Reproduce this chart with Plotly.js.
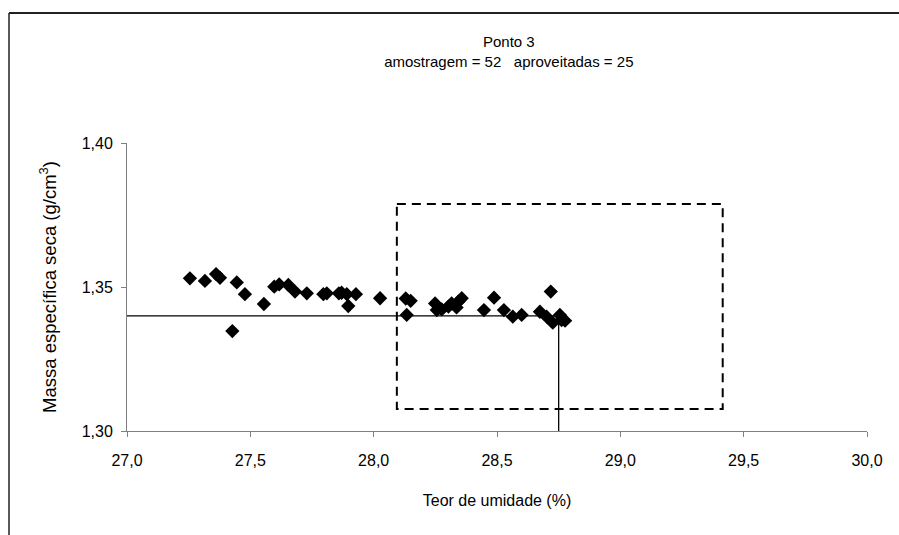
<!DOCTYPE html>
<html>
<head>
<meta charset="utf-8">
<script src="https://cdn.plot.ly/plotly-3.0.1.min.js"></script>
<style>
  html, body { margin: 0; padding: 0; background: #fff; }
  #chart { width: 899px; height: 535px; }
</style>
</head>
<body>
<div id="chart"></div>
<script>
// Teor de umidade (%) de cada amostra
const umidade = [
  27.255, 27.316, 27.361, 27.377, 27.445, 27.478, 27.427, 27.555,
  27.597, 27.617, 27.654, 27.681, 27.729, 27.796, 27.810, 27.859,
  27.870, 27.891, 27.928, 27.897, 28.026, 28.130, 28.150, 28.134,
  28.249, 28.256, 28.276, 28.303, 28.316, 28.336, 28.343, 28.357,
  28.447, 28.488, 28.528, 28.564, 28.600, 28.674, 28.718, 28.701,
  28.726, 28.755, 28.762, 28.776
];
// Massa específica seca (g/cm3) de cada amostra
const massa = [
  1.3530, 1.3521, 1.3545, 1.3532, 1.3516, 1.3475, 1.3347, 1.3441,
  1.3501, 1.3509, 1.3507, 1.3484, 1.3478, 1.3475, 1.3478, 1.3478,
  1.3480, 1.3475, 1.3475, 1.3434, 1.3461, 1.3460, 1.3452, 1.3403,
  1.3443, 1.3420, 1.3422, 1.3432, 1.3443, 1.3429, 1.3449, 1.3461,
  1.3420, 1.3463, 1.3420, 1.3397, 1.3403, 1.3414, 1.3484, 1.3397,
  1.3376, 1.3403, 1.3385, 1.3383
];

// Ponto de referência (umidade, massa) e faixa de aceitação
const refUmidade = 28.75;
const refMassa = 1.34;
const faixaUmidade = [28.094, 29.415];
const faixaMassa = [1.3076, 1.3788];

// Limites e marcas dos eixos
const xRange = [27.0, 30.0];
const yRange = [1.30, 1.40];
const xTicks = [27.0, 27.5, 28.0, 28.5, 29.0, 29.5, 30.0];
const yTicks = [1.30, 1.35, 1.40];

const fonte = 'Liberation Sans, Arial, sans-serif';
const tam = 16;

const traces = [
  {
    // linha horizontal até o ponto de referência
    x: [xRange[0], refUmidade], y: [refMassa, refMassa],
    mode: 'lines', line: { color: '#000', width: 1.3 }, hoverinfo: 'skip'
  },
  {
    // linha vertical do ponto de referência até o eixo
    x: [refUmidade, refUmidade], y: [yRange[0], refMassa],
    mode: 'lines', line: { color: '#000', width: 1.3 }, hoverinfo: 'skip'
  },
  {
    // retângulo tracejado da faixa
    x: [faixaUmidade[0], faixaUmidade[1], faixaUmidade[1], faixaUmidade[0], faixaUmidade[0]],
    y: [faixaMassa[1], faixaMassa[1], faixaMassa[0], faixaMassa[0], faixaMassa[1]],
    mode: 'lines', line: { color: '#000', width: 2, dash: '9px,6px' }, hoverinfo: 'skip'
  },
  {
    x: umidade, y: massa, mode: 'markers',
    marker: { symbol: 'diamond', size: 11, color: '#000', line: { width: 0 } }
  }
];

// moldura do gráfico (coordenadas em fração da área de plotagem)
const L = 127, R = 32, T = 143, B = 104;
const W = 899 - L - R, H = 535 - T - B;
const px = v => (v - L) / W;
const py = v => (535 - B - v) / H;

const layout = {
  width: 899, height: 535,
  margin: { l: L, r: R, t: T, b: B },
  paper_bgcolor: '#fff', plot_bgcolor: '#fff',
  showlegend: false,
  separators: ',.',
  font: { family: fonte, size: tam, color: '#000' },
  title: {
    text: 'Ponto 3<br>amostragem = 52&nbsp;&nbsp;&nbsp;aproveitadas = 25',
    font: { family: fonte, size: 15, color: '#000' },
    xref: 'container', yref: 'container',
    x: 0.566, y: 1 - 47 / 535, xanchor: 'center', yanchor: 'middle'
  },
  xaxis: {
    range: xRange, tickvals: xTicks, tickformat: '.1f',
    showline: true, linecolor: '#808080', linewidth: 1,
    ticks: 'outside', ticklen: 5, tickcolor: '#808080',
    ticklabelstandoff: 10,
    showgrid: false, zeroline: false,
    tickfont: { family: fonte, size: tam, color: '#000' },
    title: { text: 'Teor de umidade (%)', font: { family: fonte, size: tam, color: '#000' }, standoff: 26 }
  },
  yaxis: {
    range: yRange, tickvals: yTicks, tickformat: '.2f',
    showline: true, linecolor: '#808080', linewidth: 1,
    ticks: 'outside', ticklen: 5, tickcolor: '#808080',
    ticklabelstandoff: 5,
    showgrid: false, zeroline: false,
    tickfont: { family: fonte, size: tam, color: '#000' },
    title: { text: 'Massa específica seca (g/cm<sup>3</sup>)', font: { family: fonte, size: 18.5, color: '#000' }, standoff: 20 }
  },
  shapes: [
    { type: 'line', xref: 'paper', yref: 'paper', x0: px(9), x1: px(905), y0: py(13), y1: py(13), line: { color: '#222', width: 2 } },
    { type: 'line', xref: 'paper', yref: 'paper', x0: px(9), x1: px(9), y0: py(13), y1: py(540), line: { color: '#222', width: 1.5 } }
  ]
};

Plotly.newPlot('chart', traces, layout, { displayModeBar: false, staticPlot: true });
</script>
</body>
</html>
